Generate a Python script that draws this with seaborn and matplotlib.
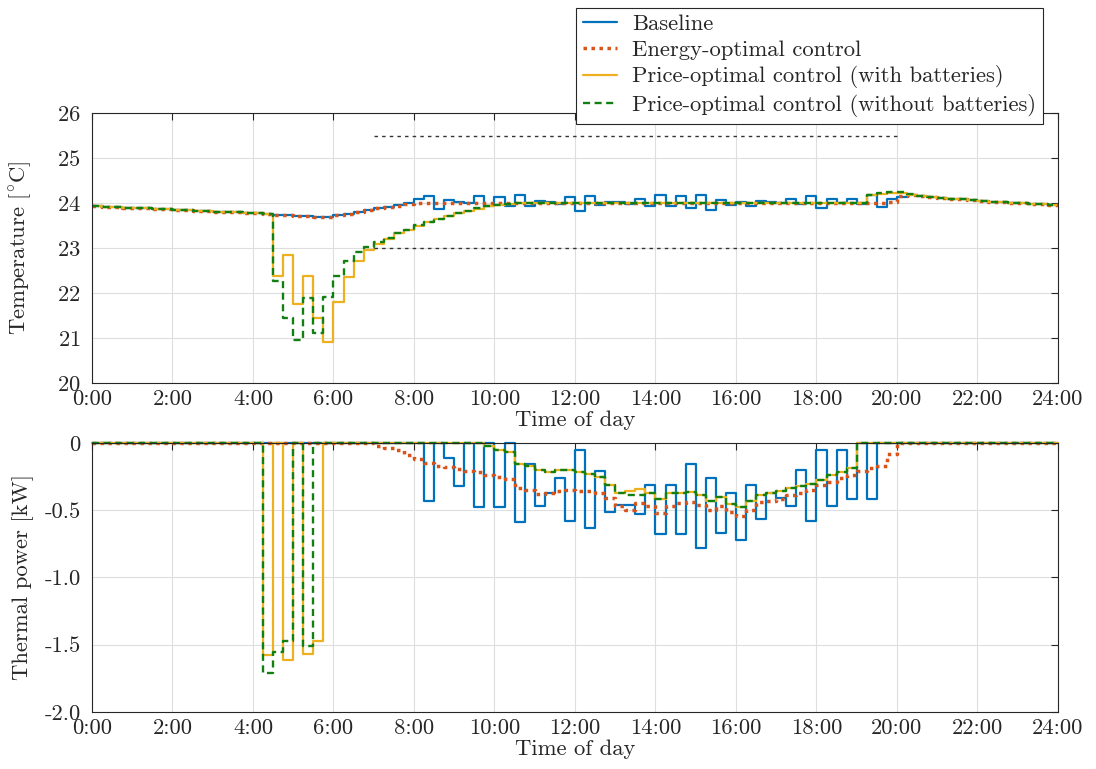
import numpy as np
import pandas as pd
import matplotlib
matplotlib.use("Agg")
import matplotlib.pyplot as plt
import seaborn as sns

# -----------------------------
# Dados (passos de 15 min, 96 intervalos por dia)
# -----------------------------
series_names = [
    "Baseline",
    "Energy-optimal control",
    "Price-optimal control (with batteries)",
    "Price-optimal control (without batteries)",
]

temp_baseline = [
    23.93, 23.92, 23.91, 23.90, 23.89, 23.88, 23.87, 23.86,
    23.85, 23.84, 23.83, 23.82, 23.81, 23.80, 23.79, 23.78,
    23.77, 23.75, 23.74, 23.73, 23.72, 23.71, 23.70, 23.70,
    23.73, 23.76, 23.80, 23.84, 23.88, 23.92, 23.96, 24.01,
    24.08, 24.16, 23.87, 24.07, 24.03, 24.00, 24.16, 23.94,
    24.13, 23.93, 24.18, 23.94, 24.04, 24.03, 23.97, 24.13,
    23.83, 24.15, 23.95, 24.03, 24.03, 23.97, 24.09, 23.93,
    24.18, 23.93, 24.16, 23.88, 24.18, 23.84, 24.07, 23.96,
    24.03, 23.94, 24.04, 24.03, 24.00, 24.09, 23.97, 24.16,
    23.90, 24.09, 24.00, 24.10, 23.98, 24.18, 23.92, 24.09,
    24.13, 24.17, 24.15, 24.13, 24.11, 24.09, 24.08, 24.06,
    24.05, 24.03, 24.02, 24.01, 24.00, 23.98, 23.97, 23.95,
]

temp_energy = [
    23.93, 23.92, 23.91, 23.90, 23.89, 23.88, 23.87, 23.86,
    23.85, 23.84, 23.83, 23.82, 23.81, 23.80, 23.79, 23.78,
    23.77, 23.75, 23.74, 23.73, 23.72, 23.71, 23.70, 23.70,
    23.73, 23.76, 23.80, 23.84, 23.88, 23.91, 23.94, 23.97,
    23.99, 24.00, 24.00, 24.00, 24.00, 24.00, 24.00, 24.00,
    24.00, 24.00, 24.00, 24.00, 24.00, 24.00, 24.00, 24.00,
    24.00, 24.00, 24.00, 24.00, 24.00, 24.00, 24.00, 24.00,
    24.00, 24.00, 24.00, 24.00, 24.00, 24.00, 24.00, 24.00,
    24.00, 24.00, 24.00, 24.00, 24.00, 24.00, 24.00, 24.00,
    24.00, 24.00, 24.00, 24.00, 24.00, 24.00, 24.00, 24.03,
    24.15, 24.17, 24.15, 24.13, 24.11, 24.09, 24.08, 24.06,
    24.05, 24.03, 24.02, 24.01, 24.00, 23.98, 23.97, 23.95,
]

temp_price_batt = [
    23.93, 23.92, 23.91, 23.90, 23.89, 23.88, 23.87, 23.86,
    23.85, 23.84, 23.83, 23.82, 23.81, 23.80, 23.79, 23.78,
    23.77, 23.75, 22.38, 22.84, 21.75, 22.38, 21.44, 20.90,
    21.79, 22.35, 22.72, 22.96, 23.10, 23.21, 23.33, 23.40,
    23.50, 23.57, 23.64, 23.72, 23.78, 23.82, 23.87, 23.93,
    23.96, 23.97, 23.99, 24.00, 24.00, 24.01, 24.00, 24.00,
    24.00, 24.01, 24.00, 24.00, 24.00, 24.00, 24.01, 24.00,
    24.00, 24.00, 24.00, 24.00, 24.01, 24.00, 24.00, 24.00,
    24.00, 24.00, 24.01, 24.00, 24.00, 24.00, 24.00, 24.00,
    24.00, 24.00, 24.00, 24.00, 24.01, 24.17, 24.20, 24.22,
    24.23, 24.18, 24.15, 24.13, 24.11, 24.09, 24.08, 24.06,
    24.05, 24.03, 24.02, 24.01, 24.00, 23.98, 23.97, 23.95,
]

temp_price_nobatt = [
    23.93, 23.92, 23.91, 23.90, 23.89, 23.88, 23.87, 23.86,
    23.85, 23.84, 23.83, 23.82, 23.81, 23.80, 23.79, 23.78,
    23.77, 23.75, 22.27, 21.44, 20.96, 21.88, 21.10, 21.92,
    22.38, 22.70, 22.92, 23.03, 23.14, 23.23, 23.33, 23.41,
    23.51, 23.58, 23.65, 23.72, 23.78, 23.83, 23.88, 23.93,
    23.96, 23.97, 23.99, 24.00, 24.01, 24.00, 24.00, 24.01,
    24.00, 24.00, 24.01, 24.00, 24.00, 24.01, 24.00, 24.00,
    24.01, 24.00, 24.00, 24.01, 24.00, 24.00, 24.01, 24.00,
    24.00, 24.01, 24.00, 24.00, 24.01, 24.00, 24.00, 24.00,
    24.01, 24.00, 24.00, 24.01, 24.00, 24.18, 24.22, 24.24,
    24.25, 24.19, 24.16, 24.13, 24.11, 24.09, 24.08, 24.06,
    24.05, 24.03, 24.02, 24.01, 24.00, 23.98, 23.97, 23.95,
]

power_baseline = [
    0, 0, 0, 0, 0, 0, 0, 0,
    0, 0, 0, 0, 0, 0, 0, 0,
    0, 0, 0, 0, 0, 0, 0, 0,
    0, 0, 0, 0, 0, 0, 0, 0,
    0, -0.43, 0, -0.11, -0.32, 0, -0.48, 0,
    -0.48, 0, -0.585, -0.16, -0.47, -0.375, -0.26, -0.58,
    -0.05, -0.63, -0.21, -0.515, -0.465, -0.46, -0.525, -0.31,
    -0.68, -0.31, -0.68, -0.155, -0.78, -0.26, -0.67, -0.37,
    -0.72, -0.315, -0.565, -0.375, -0.41, -0.47, -0.205, -0.58,
    -0.05, -0.47, -0.05, -0.42, 0, -0.42, 0, 0,
    0, 0, 0, 0, 0, 0, 0, 0,
    0, 0, 0, 0, 0, 0, 0, 0,
]

power_energy = [
    0, 0, 0, 0, 0, 0, 0, 0,
    0, 0, 0, 0, 0, 0, 0, 0,
    0, 0, 0, 0, 0, 0, 0, 0,
    0, 0, 0, 0, -0.02, -0.04, -0.05, -0.09,
    -0.12, -0.15, -0.17, -0.18, -0.195, -0.21, -0.22, -0.24,
    -0.255, -0.27, -0.335, -0.35, -0.38, -0.37, -0.355, -0.35,
    -0.355, -0.355, -0.37, -0.41, -0.47, -0.50, -0.45, -0.47,
    -0.52, -0.47, -0.45, -0.44, -0.46, -0.50, -0.47, -0.51,
    -0.54, -0.50, -0.44, -0.43, -0.42, -0.39, -0.37, -0.35,
    -0.31, -0.29, -0.26, -0.24, -0.21, -0.19, -0.17, -0.08,
    0, 0, 0, 0, 0, 0, 0, 0,
    0, 0, 0, 0, 0, 0, 0, 0,
]

power_price_batt = [
    0, 0, 0, 0, 0, 0, 0, 0,
    0, 0, 0, 0, 0, 0, 0, 0,
    0, -1.575, 0, -1.615, 0, -1.57, -1.47, 0,
    0, 0, 0, 0, 0, 0, 0, 0,
    0, 0, 0, 0, 0, 0, 0, -0.025,
    -0.05, -0.07, -0.155, -0.17, -0.205, -0.22, -0.20, -0.205,
    -0.215, -0.23, -0.25, -0.31, -0.375, -0.36, -0.34, -0.375,
    -0.42, -0.375, -0.37, -0.365, -0.385, -0.435, -0.40, -0.455,
    -0.48, -0.435, -0.385, -0.375, -0.355, -0.335, -0.32, -0.305,
    -0.275, -0.24, -0.22, -0.185, 0, 0, 0, 0,
    0, 0, 0, 0, 0, 0, 0, 0,
    0, 0, 0, 0, 0, 0, 0, 0,
]

power_price_nobatt = [
    0, 0, 0, 0, 0, 0, 0, 0,
    0, 0, 0, 0, 0, 0, 0, 0,
    0, -1.71, -1.555, -1.47, 0, -1.51, 0, 0,
    0, 0, 0, 0, 0, 0, 0, 0,
    0, 0, 0, 0, 0, 0, 0, -0.025,
    -0.05, -0.07, -0.155, -0.17, -0.205, -0.22, -0.20, -0.205,
    -0.215, -0.23, -0.25, -0.31, -0.375, -0.39, -0.39, -0.375,
    -0.42, -0.375, -0.37, -0.365, -0.385, -0.435, -0.40, -0.455,
    -0.48, -0.435, -0.385, -0.375, -0.355, -0.335, -0.32, -0.305,
    -0.275, -0.24, -0.22, -0.185, 0, 0, 0, 0,
    0, 0, 0, 0, 0, 0, 0, 0,
    0, 0, 0, 0, 0, 0, 0, 0,
]

# limites de conforto (painel de temperatura)
comfort_hours = [7, 20]
comfort_upper = 25.5
comfort_lower = 23.0

hour_ticks = list(range(0, 25, 2))
hour_labels = [f"{h}:00" for h in hour_ticks]
temp_ticks = [20, 21, 22, 23, 24, 25, 26]
power_ticks = [-2.0, -1.5, -1.0, -0.5, 0]
power_labels = ["-2.0", "-1.5", "-1.0", "-0.5", "0"]

# -----------------------------
# Estilo
# -----------------------------
FS = 16.3
sns.set_style("whitegrid")
plt.rcParams.update({
    "font.family": ["cmr10", "DejaVu Serif"],
    "mathtext.fontset": "cm",
    "axes.unicode_minus": False,
    "axes.formatter.use_mathtext": True,
    "font.size": FS,
    "text.color": "#262626",
    "axes.labelcolor": "#262626",
})

styles = {
    series_names[0]: dict(color="#0072BD", linestyle="-", linewidth=1.6),
    series_names[1]: dict(color="#D95319", linestyle=(0, (1, 1.3)), linewidth=2.5),
    series_names[2]: dict(color="#EDB120", linestyle="-", linewidth=1.6),
    series_names[3]: dict(color="#118011", linestyle=(0, (3.0, 1.9)), linewidth=1.7),
}


def stairs_df(values):
    """Fecha o degrau final repetindo o ultimo valor em 24:00"""
    y = list(values) + [values[-1]]
    return pd.DataFrame({"t": np.arange(len(y)) / 4, "y": y})


def style_axes(ax):
    ax.set_xlim(0, 24)
    ax.set_xticks(hour_ticks)
    ax.set_xticklabels(hour_labels)
    ax.set_xlabel("Time of day", labelpad=1)
    ax.grid(True, color="#dedede", linewidth=0.8)
    for s in ax.spines.values():
        s.set_color("#262626")
        s.set_linewidth(0.8)
    ax.tick_params(direction="in", top=True, right=True, length=5, width=0.8,
                   colors="#262626", labelsize=FS)
    ax.tick_params(axis="x", pad=5)
    ax.tick_params(axis="y", pad=8)
    ax.yaxis.set_label_coords(-0.06, 0.5)


fig = plt.figure(figsize=(10.96, 7.69), dpi=100)
ax_t = fig.add_axes([0.0839, 0.502, 0.8814, 0.351])
ax_p = fig.add_axes([0.0839, 0.0741, 0.8814, 0.350])

temps = [temp_baseline, temp_energy, temp_price_batt, temp_price_nobatt]
powers = [power_baseline, power_energy, power_price_batt, power_price_nobatt]

for name, tv, pv in zip(series_names, temps, powers):
    st = styles[name]
    sns.lineplot(data=stairs_df(tv), x="t", y="y", ax=ax_t, drawstyle="steps-post",
                 label=name, sort=False, dash_capstyle="butt", **st)
    sns.lineplot(data=stairs_df(pv), x="t", y="y", ax=ax_p, drawstyle="steps-post",
                 sort=False, clip_on=False, dash_capstyle="butt", **st)

for level in [comfort_upper, comfort_lower]:
    ax_t.hlines(level, comfort_hours[0], comfort_hours[1], colors="#333333",
                linestyles=(0, (2.5, 3.0)), linewidth=1.0)

ax_t.set_ylim(20, 26)
ax_t.set_yticks(temp_ticks)
ax_t.set_ylabel(r"Temperature [$^{\circ}$C]")
style_axes(ax_t)

ax_p.set_ylim(-2, 0)
ax_p.set_yticks(power_ticks)
ax_p.set_yticklabels(power_labels)
ax_p.set_ylabel("Thermal power [kW]")
style_axes(ax_p)

handles, labels = ax_t.get_legend_handles_labels()
ax_t.get_legend().remove()
leg = fig.legend(handles, labels, loc="upper right", bbox_to_anchor=(0.952, 0.99),
                 fontsize=FS, frameon=True, fancybox=False, framealpha=1,
                 edgecolor="#262626", handlelength=1.5, handletextpad=0.7,
                 labelspacing=0.25, borderpad=0.3, borderaxespad=0)
leg.get_frame().set_linewidth(0.8)
leg.set_zorder(10)

fig.savefig("out.png", dpi=100)
